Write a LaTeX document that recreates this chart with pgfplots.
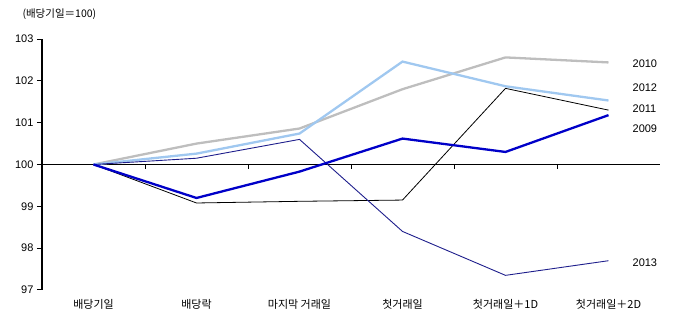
\documentclass[border=0pt]{standalone}
\usepackage{pgfplots}
\pgfplotsset{compat=1.18}
\usepackage{fontspec}
\setmainfont{Liberation Sans}
\newfontfamily\kr{Noto Sans CJK KR}
\definecolor{cgray}{RGB}{190,190,190}
\definecolor{clblue}{RGB}{160,200,240}
\definecolor{cblue}{RGB}{0,0,200}
\definecolor{cnavy}{RGB}{30,30,140}
\begin{document}
\begin{tikzpicture}
\useasboundingbox (-42pt,-31pt) rectangle (644pt,290pt);
\begin{axis}[
  at={(0,0)}, anchor=south west,
  scale only axis, width=618pt, height=251pt,
  xmin=-0.5, xmax=5.5, ymin=97, ymax=103,
  axis lines*=left,
  x axis line style={draw=none},
  xtick={0,1,2,3,4,5},
  xticklabels={배당기일,배당락,마지막 거래일,첫거래일,첫거래일＋1D,첫거래일＋2D},
  x tick label style={font=\kr\fontsize{11}{12}\selectfont, yshift=-1pt},
  xtick style={draw=none},
  ytick={97,98,99,100,101,102,103},
  y tick label style={font=\fontsize{11}{12}\selectfont},
  /pgf/number format/assume math mode=true,
  ytick style={black, line width=1pt},
  tick align=outside,
  major tick length=5pt,
  y axis line style={black, line width=1.3pt},
  clip=false,
  unbounded coords=jump,
]
\addplot[black, line width=1.8pt] coordinates {(-0.5,100) (5.5,100)};
\addplot[black, line width=1pt] coordinates {(0.5,100)(0.5,99.9)(0.5,nan)(1.5,100)(1.5,99.9)(1.5,nan)(2.5,100)(2.5,99.9)(2.5,nan)(3.5,100)(3.5,99.9)(3.5,nan)(4.5,100)(4.5,99.9)};
% 2010
\addplot[cgray, line width=2.3pt] coordinates {(0,100)(1,100.5)(2,100.86)(3,101.8)(4,102.56)(5,102.44)};
% 2012
\addplot[clblue, line width=2.3pt] coordinates {(0,100)(1,100.26)(2,100.74)(3,102.46)(4,101.87)(5,101.53)};
% 2011
\addplot[black, line width=0.8pt] coordinates {(0,100)(1,99.08)(2,99.12)(3,99.15)(4,101.82)(5,101.3)};
% 2013
\addplot[cnavy, line width=0.9pt] coordinates {(0,100)(1,100.15)(2,100.6)(3,98.4)(4,97.35)(5,97.7)};
% 2009
\addplot[cblue, line width=2.3pt] coordinates {(0,100)(1,99.2)(2,99.83)(3,100.62)(4,100.3)(5,101.18)};
\node[anchor=west, font=\fontsize{11}{12}\selectfont] at (axis cs:5.2,102.42) {2010};
\node[anchor=west, font=\fontsize{11}{12}\selectfont] at (axis cs:5.2,101.84) {2012};
\node[anchor=west, font=\fontsize{11}{12}\selectfont] at (axis cs:5.2,101.34) {2011};
\node[anchor=west, font=\fontsize{11}{12}\selectfont] at (axis cs:5.2,100.86) {2009};
\node[anchor=west, font=\fontsize{11}{12}\selectfont] at (axis cs:5.2,97.66) {2013};
\end{axis}
\node[anchor=west, font=\kr\fontsize{10.5}{12}\selectfont] at (-23pt,276pt) {(배당기일＝100)};
\end{tikzpicture}
\end{document}
